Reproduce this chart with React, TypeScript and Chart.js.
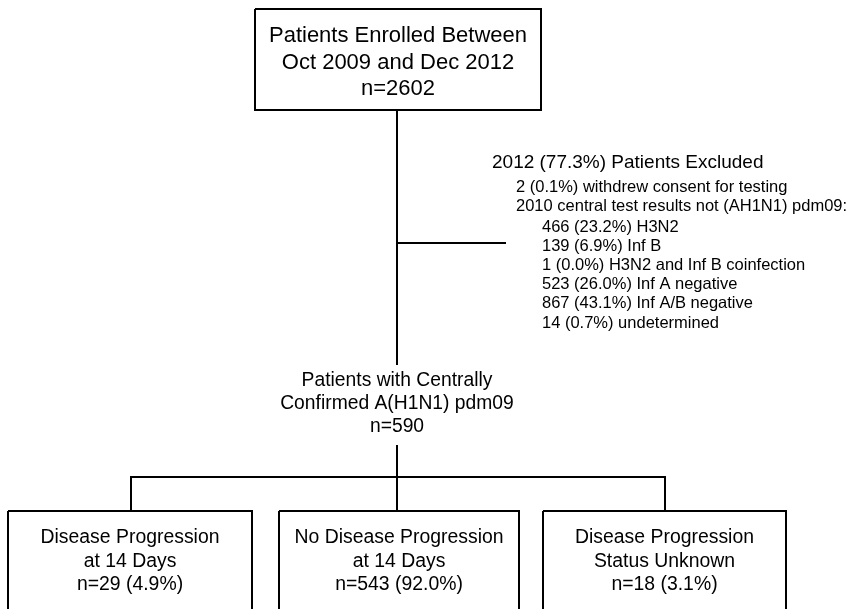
import React, { useEffect, useRef } from "react";
import { Chart, registerables } from "chart.js";

Chart.register(...registerables);

// ---- data ----
const enrolledPeriod = ["Oct 2009", "Dec 2012"];
const enrolledN = 2602;
const excludedN = 2012;
const excludedPct = 77.3;
const withdrewN = 2;
const withdrewPct = 0.1;
const notH1N1N = 2010;
const notH1N1Labels = ["H3N2", "Inf B", "H3N2 and Inf B coinfection", "Inf A negative", "Inf A/B negative", "undetermined"];
const notH1N1Counts = [466, 139, 1, 523, 867, 14];
const notH1N1Pcts = [23.2, 6.9, 0.0, 26.0, 43.1, 0.7];
const confirmedN = 590;
const outcomeLabels = [
  ["Disease Progression", "at 14 Days"],
  ["No Disease Progression", "at 14 Days"],
  ["Disease Progression", "Status Unknown"],
];
const outcomeCounts = [29, 543, 18];
const outcomePcts = [4.9, 92.0, 3.1];

// ---- layout (positions in canvas units) ----
const W = 852;
const H = 609;
const L = {
  top: { x0: 255, x1: 541, y0: 9, y1: 110 },
  spineX: 397,
  exclY: 243,
  exclX1: 506,
  midTextTop: 365,
  midTextBottom: 445,
  branchY: 477,
  boxTop: 511,
  boxBottom: 660,
  boxes: [
    { x0: 8, x1: 252, branch: 131 },
    { x0: 279, x1: 519, branch: 397 },
    { x0: 543, x1: 786, branch: 665 },
  ],
};

const FONT = "'Liberation Sans', Arial, Helvetica, sans-serif";
const pct = (v: number) => v.toFixed(1) + "%";

function rect(x0: number, y0: number, x1: number, y1: number) {
  return [
    { x: x0, y: y0 },
    { x: x1, y: y0 },
    { x: x1, y: y1 },
    { x: x0, y: y1 },
    { x: x0, y: y0 },
  ];
}

function seg(pts: number[][]) {
  return pts.map(([x, y]) => ({ x, y }));
}

const textPlugin = {
  id: "flowText",
  afterDatasetsDraw(chart: any) {
    const { ctx, scales } = chart;
    const px = (v: number) => scales.x.getPixelForValue(v);
    const py = (v: number) => scales.y.getPixelForValue(v);
    ctx.save();
    ctx.fillStyle = "#000";
    ctx.textBaseline = "middle";

    // top box
    ctx.font = `22px ${FONT}`;
    ctx.textAlign = "center";
    const tcx = (L.top.x0 + L.top.x1) / 2;
    const topLines = [
      "Patients Enrolled Between",
      `${enrolledPeriod[0]} and ${enrolledPeriod[1]}`,
      `n=${enrolledN}`,
    ];
    const topY = [36, 63, 89];
    topLines.forEach((t, i) => ctx.fillText(t, px(tcx), py(topY[i])));

    // exclusion text
    ctx.textAlign = "left";
    ctx.font = `19px ${FONT}`;
    ctx.fillText(`${excludedN} (${pct(excludedPct)}) Patients Excluded`, px(492), py(163));
    ctx.font = `16.5px ${FONT}`;
    ctx.fillText(`${withdrewN} (${pct(withdrewPct)}) withdrew consent for testing`, px(516), py(187));
    ctx.fillText(`${notH1N1N} central test results not (AH1N1) pdm09:`, px(516), py(206));
    notH1N1Labels.forEach((lab, i) => {
      ctx.fillText(`${notH1N1Counts[i]} (${pct(notH1N1Pcts[i])}) ${lab}`, px(542), py(227 + i * 19.2));
    });

    // middle text
    ctx.textAlign = "center";
    ctx.font = `19.3px ${FONT}`;
    const midLines = ["Patients with Centrally", "Confirmed A(H1N1) pdm09", `n=${confirmedN}`];
    const midY = [381, 404, 427];
    midLines.forEach((t, i) => ctx.fillText(t, px(L.spineX), py(midY[i])));

    // outcome boxes
    ctx.font = `19.4px ${FONT}`;
    L.boxes.forEach((b, i) => {
      const cx = (b.x0 + b.x1) / 2;
      const lines = [...outcomeLabels[i], `n=${outcomeCounts[i]} (${pct(outcomePcts[i])})`];
      const ys = [538, 562, 585];
      lines.forEach((t, j) => ctx.fillText(t, px(cx), py(ys[j])));
    });
    ctx.restore();
  },
};

export default function App() {
  const ref = useRef<HTMLCanvasElement>(null);
  useEffect(() => {
    if (!ref.current) return;
    const lineSets: { x: number; y: number }[][] = [
      rect(L.top.x0, L.top.y0, L.top.x1, L.top.y1),
      seg([[L.spineX, L.top.y1], [L.spineX, L.midTextTop]]),
      seg([[L.spineX, L.exclY], [L.exclX1, L.exclY]]),
      seg([[L.spineX, L.midTextBottom], [L.spineX, L.boxTop + 1]]),
      seg([[L.boxes[0].branch, L.boxTop], [L.boxes[0].branch, L.branchY], [L.boxes[2].branch, L.branchY], [L.boxes[2].branch, L.boxTop]]),
      ...L.boxes.map((b) => rect(b.x0, L.boxTop, b.x1, L.boxBottom)),
    ];
    const chart = new Chart(ref.current, {
      type: "scatter",
      data: {
        datasets: lineSets.map((d) => ({
          data: d,
          showLine: true,
          borderColor: "#000",
          borderWidth: 2,
          pointRadius: 0,
          tension: 0,
          fill: false,
          clip: false,
          borderJoinStyle: "miter",
        })),
      },
      options: {
        animation: false,
        responsive: false,
        maintainAspectRatio: false,
        layout: { padding: 0 },
        plugins: { legend: { display: false }, tooltip: { enabled: false } },
        events: [],
        scales: {
          x: { type: "linear", min: 0, max: W, display: false },
          y: { type: "linear", min: 0, max: H, reverse: true, display: false },
        },
      } as any,
      plugins: [textPlugin],
    });
    return () => chart.destroy();
  }, []);
  return (
    <div style={{ position: "fixed", left: 0, top: 0, width: W, height: H, background: "#fff" }}>
      <canvas ref={ref} width={W} height={H} style={{ display: "block" }} />
    </div>
  );
}
